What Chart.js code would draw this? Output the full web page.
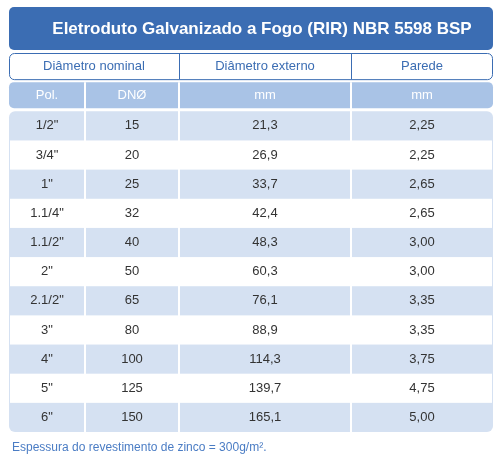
<!DOCTYPE html>
<html><head><meta charset="utf-8">
<script src="https://cdn.jsdelivr.net/npm/chart.js@4"></script>
<style>html,body{margin:0;background:#fff}#c{display:block}</style>
</head><body>
<div style="width:500px;height:466px"><canvas id="c"></canvas></div>
<script>
const title = "Eletroduto Galvanizado a Fogo (RIR) NBR 5598 BSP";
const groupHeaders = ["Diâmetro nominal", "Diâmetro externo", "Parede"];
const subHeaders = ["Pol.", "DNØ", "mm", "mm"];
const pol = ['1/2"', '3/4"', '1"', '1.1/4"', '1.1/2"', '2"', '2.1/2"', '3"', '4"', '5"', '6"'];
const dn = [15, 20, 25, 32, 40, 50, 65, 80, 100, 125, 150];
const diamExt = ["21,3", "26,9", "33,7", "42,4", "48,3", "60,3", "76,1", "88,9", "114,3", "139,7", "165,1"];
const parede = ["2,25", "2,25", "2,65", "2,65", "3,00", "3,00", "3,35", "3,35", "3,75", "4,75", "5,00"];
const footnote = "Espessura do revestimento de zinco = 300g/m².";
// column edges in x-scale units
const colEdges = [0, 76, 170, 342, 484];

const rrect = (ctx, x, y, w, h, r) => {
  ctx.beginPath();
  ctx.roundRect(x, y, w, h, r);
};

const tablePlugin = {
  id: "table",
  beforeDraw(chart) {
    const ctx = chart.ctx;
    const xs = chart.scales.x, ys = chart.scales.y;
    const X = (v) => xs.getPixelForValue(v);
    const Y = (v) => ys.getPixelForValue(v);
    const L = X(0), R = X(484);
    ctx.save();
    // title
    rrect(ctx, L, 7, R - L, 43, 5);
    ctx.fillStyle = "#3b6db3";
    ctx.fill();
    ctx.fillStyle = "#fff";
    ctx.font = "bold 17px 'Liberation Sans', Arial, sans-serif";
    ctx.textAlign = "center";
    ctx.textBaseline = "middle";
    ctx.fillText(title, (L + R) / 2 + 11, 29);
    // group header row (-2)
    const gEdges = [0, 170, 342, 484];
    rrect(ctx, L + 0.5, Y(-2) + 0.5, R - L - 1, Y(-1) - Y(-2) - 3, 5);
    ctx.fillStyle = "#fff";
    ctx.fill();
    ctx.strokeStyle = "#3b6db3";
    ctx.lineWidth = 1;
    ctx.stroke();
    ctx.font = "13px 'Liberation Sans', Arial, sans-serif";
    ctx.fillStyle = "#3b6db3";
    groupHeaders.forEach((t, i) => {
      if (i > 0) {
        ctx.beginPath();
        ctx.moveTo(X(gEdges[i]) + 0.5, Y(-2));
        ctx.lineTo(X(gEdges[i]) + 0.5, Y(-1) - 3);
        ctx.stroke();
      }
      ctx.fillText(t, (X(gEdges[i]) + X(gEdges[i + 1])) / 2, (Y(-2) + Y(-1) - 3) / 2);
    });
    // sub header row (-1)
    rrect(ctx, L, Y(-1), R - L, Y(0) - Y(-1) - 3, 5);
    ctx.fillStyle = "#a9c3e6";
    ctx.fill();
    ctx.fillStyle = "#fff";
    ctx.font = "13px 'Liberation Sans', Arial, sans-serif";
    subHeaders.forEach((t, i) => {
      ctx.fillText(t, (X(colEdges[i]) + X(colEdges[i + 1])) / 2, (Y(-1) + Y(0) - 3) / 2);
    });
    // body
    rrect(ctx, L, Y(0), R - L, Y(pol.length) - Y(0), 6);
    ctx.fillStyle = "#d5e1f2";
    ctx.fill();
    ctx.fillStyle = "#fff";
    pol.forEach((p, r) => {
      if (r % 2 === 1) ctx.fillRect(L + 1, Y(r), R - L - 2, Y(r + 1) - Y(r));
    });
    ctx.fillStyle = "#333";
    pol.forEach((p, r) => {
      const cells = [p, String(dn[r]), diamExt[r], parede[r]];
      const cy = (Y(r) + Y(r + 1)) / 2;
      cells.forEach((t, i) => {
        ctx.fillText(t, (X(colEdges[i]) + X(colEdges[i + 1])) / 2, cy);
      });
    });
    // vertical separators
    ctx.strokeStyle = "#fff";
    ctx.lineWidth = 2;
    for (let i = 1; i < 4; i++) {
      ctx.beginPath();
      ctx.moveTo(X(colEdges[i]), Y(-1));
      ctx.lineTo(X(colEdges[i]), Y(pol.length));
      ctx.stroke();
    }
    // footnote
    ctx.fillStyle = "#4a7cc4";
    ctx.textAlign = "left";
    ctx.font = "12px 'Liberation Sans', Arial, sans-serif";
    ctx.fillText(footnote, 12, 448);
    ctx.restore();
  },
};

new Chart(document.getElementById("c"), {
  type: "scatter",
  data: { datasets: [{ data: [], pointRadius: 0 }] },
  options: {
    responsive: true,
    maintainAspectRatio: false,
    animation: false,
    layout: { padding: { left: 9, right: 7, top: 53, bottom: 34 } },
    scales: {
      x: { type: "linear", min: 0, max: 484, display: false },
      y: { type: "linear", min: -2, max: pol.length, reverse: true, display: false },
    },
    plugins: { legend: { display: false }, tooltip: { enabled: false } },
  },
  plugins: [tablePlugin],
});
</script>
</body></html>
